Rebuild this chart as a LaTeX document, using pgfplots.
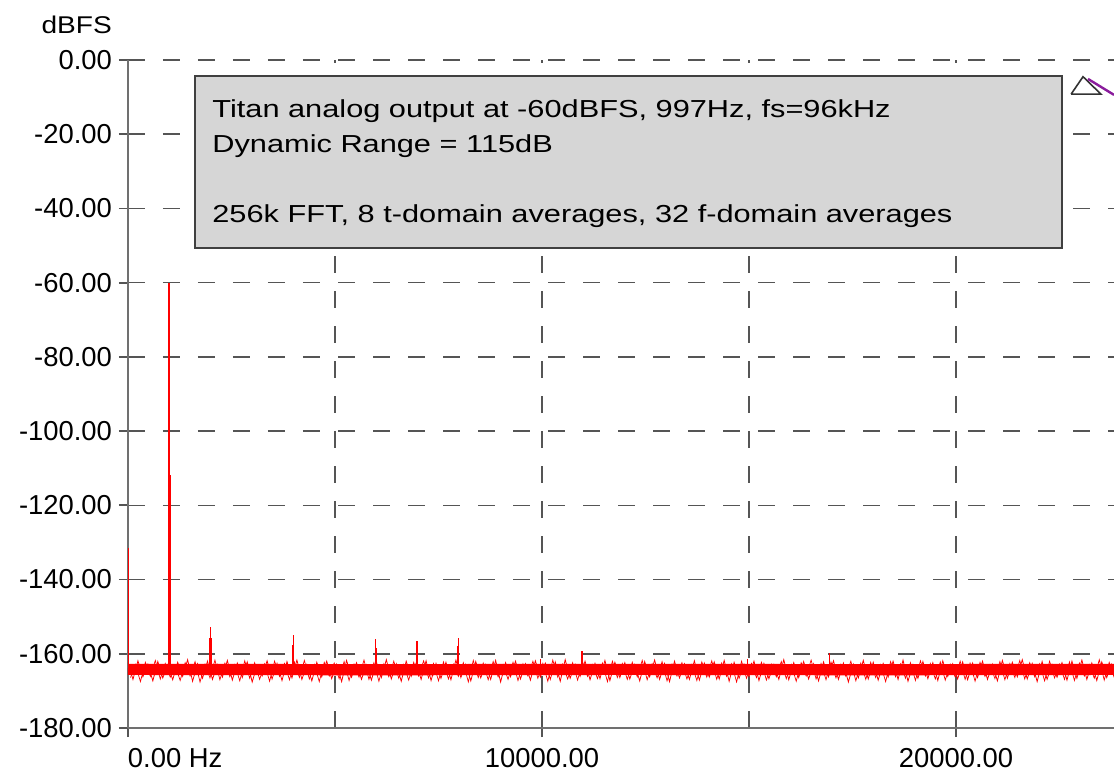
\documentclass[border=0pt]{standalone}
\usepackage{pgfplots}
\pgfplotsset{compat=1.18}
\usepackage{fontspec}
\setmainfont{Liberation Sans}
\newfontfamily\boxfont[FakeStretch=1.25]{Liberation Sans}
\newfontfamily\dbfsfont[FakeStretch=1.16]{Liberation Sans}
\definecolor{axisgray}{HTML}{707070}
\definecolor{gridgray}{HTML}{555555}
\definecolor{boxgray}{HTML}{D6D6D6}
\definecolor{sigred}{HTML}{FF0000}
\definecolor{curpurple}{HTML}{8A1C9C}
\begin{document}
\begin{tikzpicture}
\useasboundingbox (-64pt,-24pt) rectangle (493pt,364pt);
\begin{axis}[
  name=ax,
  at={(0,0)}, anchor=south west,
  scale only axis,
  width=493pt, height=334pt,
  xmin=0, xmax=23816,
  ymin=-180, ymax=0,
  axis lines=left,
  axis line style={-, draw=axisgray, line width=1pt},
  xtick={0,10000,20000},
  xticklabels={\makebox[0pt][l]{0.00 Hz},10000.00,20000.00},
  minor xtick={5000,15000},
  ytick={-180,-160,-140,-120,-100,-80,-60,-40,-20,0},
  yticklabels={-180.00,-160.00,-140.00,-120.00,-100.00,-80.00,-60.00,-40.00,-20.00,0.00},
  tick label style={font=\fontsize{13.7}{14}\selectfont, text=black},
  xticklabel style={inner sep=0.8pt, yshift=-4.9pt},
  tick align=outside,
  major tick length=4.5pt,
  minor tick length=0pt,
  tick style={draw=gridgray, line width=0.9pt},
  grid=both,
  major grid style={draw=gridgray, line width=0.75pt, dash pattern=on 8.5pt off 9pt},
  minor grid style={draw=gridgray, line width=0.75pt, dash pattern=on 8.5pt off 9pt},
  clip=true,
]
% noise core band
\addplot[sigred, line width=5.6pt, line cap=butt] coordinates {(0,-164.2) (6000,-164.3) (12000,-164.2) (18000,-164.3) (23816,-164.2)};
% noise fuzz (coarse)
\addplot[sigred, line width=0.4pt] coordinates {
(0,-162.4) (120,-166.9) (240,-161.9) (360,-166.2) (480,-162.8) (600,-167.3) (720,-162.1) (840,-166.5) (960,-163.0) (1080,-167.0)
(1200,-162.3) (1320,-166.1) (1440,-161.6) (1560,-167.4) (1680,-162.7) (1800,-166.6) (1920,-162.0) (2040,-166.9) (2160,-162.9) (2280,-166.3)
(2400,-161.8) (2520,-167.1) (2640,-162.5) (2760,-166.4) (2880,-162.2) (3000,-167.6) (3120,-163.1) (3240,-166.0) (3360,-161.9) (3480,-166.8)
(3600,-162.6) (3720,-167.2) (3840,-162.1) (3960,-166.5) (4080,-161.7) (4200,-166.9) (4320,-162.9) (4440,-167.3) (4560,-162.3) (4680,-166.2)
(4800,-162.0) (4920,-166.7) (5040,-162.8) (5160,-167.5) (5280,-161.8) (5400,-166.3) (5520,-162.4) (5640,-166.9) (5760,-163.0) (5880,-167.1)
(6000,-162.2) (6120,-166.4) (6240,-161.6) (6360,-166.8) (6480,-162.7) (6600,-167.4) (6720,-162.0) (6840,-166.1) (6960,-162.5) (7080,-166.9)
(7200,-161.9) (7320,-167.2) (7440,-162.6) (7560,-166.6) (7680,-162.3) (7800,-167.0) (7920,-161.7) (8040,-166.4) (8160,-162.8) (8280,-167.3)
(8400,-162.1) (8520,-166.5) (8640,-162.9) (8760,-166.9) (8880,-161.8) (9000,-167.6) (9120,-162.4) (9240,-166.2) (9360,-162.0) (9480,-166.8)
(9600,-162.7) (9720,-167.1) (9840,-161.9) (9960,-166.3) (10080,-162.5) (10200,-166.9) (10320,-162.2) (10440,-167.4) (10560,-161.6) (10680,-166.6)
(10800,-162.8) (10920,-166.1) (11040,-162.0) (11160,-167.0) (11280,-162.6) (11400,-166.7) (11520,-161.8) (11640,-167.2) (11760,-162.3) (11880,-166.4)
(12000,-162.4) (12120,-166.8) (12240,-162.9) (12360,-167.3) (12480,-162.1) (12600,-166.2) (12720,-161.7) (12840,-166.9) (12960,-162.6) (13080,-167.5)
(13200,-162.0) (13320,-166.5) (13440,-162.7) (13560,-166.9) (13680,-161.9) (13800,-167.1) (13920,-162.5) (14040,-166.3) (14160,-162.2) (14280,-166.8)
(14400,-161.8) (14520,-167.4) (14640,-162.3) (14760,-166.6) (14880,-162.8) (15000,-166.1) (15120,-162.0) (15240,-167.2) (15360,-162.6) (15480,-166.7)
(15600,-162.9) (15720,-166.9) (15840,-161.6) (15960,-167.0) (16080,-162.4) (16200,-166.4) (16320,-162.1) (16440,-166.8) (16560,-162.7) (16680,-167.3)
(16800,-162.2) (16920,-166.2) (17040,-161.9) (17160,-166.9) (17280,-162.5) (17400,-167.6) (17520,-162.8) (17640,-166.5) (17760,-161.8) (17880,-166.8)
(18000,-162.3) (18120,-167.1) (18240,-162.6) (18360,-166.3) (18480,-162.0) (18600,-166.9) (18720,-161.7) (18840,-167.4) (18960,-162.9) (19080,-166.6)
(19200,-162.1) (19320,-166.7) (19440,-162.4) (19560,-167.2) (19680,-161.9) (19800,-166.1) (19920,-162.7) (20040,-166.8) (20160,-162.2) (20280,-167.0)
(20400,-162.5) (20520,-166.4) (20640,-162.0) (20760,-166.9) (20880,-162.8) (21000,-167.3) (21120,-161.8) (21240,-166.6) (21360,-162.3) (21480,-166.2)
(21600,-161.6) (21720,-166.8) (21840,-162.6) (21960,-167.5) (22080,-162.1) (22200,-166.9) (22320,-162.9) (22440,-166.3) (22560,-162.4) (22680,-167.1)
(22800,-162.0) (22920,-166.6) (23040,-161.7) (23160,-166.9) (23280,-162.5) (23400,-167.2) (23520,-162.2) (23640,-166.4) (23760,-162.8) (23880,-166.9)
};
% noise fuzz (fine, offset)
\addplot[sigred, line width=0.35pt] coordinates {
(60,-166.4) (180,-162.9) (300,-167.5) (420,-162.3) (540,-166.1) (660,-161.8) (780,-166.8) (900,-162.6) (1020,-166.3) (1140,-163.1)
(1260,-167.2) (1380,-162.4) (1500,-166.0) (1620,-162.1) (1740,-167.6) (1860,-162.8) (1980,-166.5) (2100,-161.7) (2220,-167.0) (2340,-162.5)
(2460,-166.2) (2580,-162.9) (2700,-167.3) (2820,-161.9) (2940,-166.6) (3060,-162.4) (3180,-166.9) (3300,-162.7) (3420,-167.4) (3540,-162.0)
(3660,-166.1) (3780,-162.6) (3900,-167.0) (4020,-162.2) (4140,-166.4) (4260,-161.8) (4380,-166.8) (4500,-162.9) (4620,-167.5) (4740,-162.3)
(4860,-166.0) (4980,-162.5) (5100,-166.7) (5220,-162.1) (5340,-167.2) (5460,-162.8) (5580,-166.3) (5700,-161.7) (5820,-166.9) (5940,-162.4)
(6060,-167.4) (6180,-162.7) (6300,-166.2) (6420,-162.0) (6540,-166.6) (6660,-162.9) (6780,-167.1) (6900,-162.3) (7020,-166.0) (7140,-161.9)
(7260,-166.5) (7380,-162.6) (7500,-167.3) (7620,-162.2) (7740,-166.8) (7860,-162.8) (7980,-166.1) (8100,-162.4) (8220,-167.6) (8340,-161.8)
(8460,-166.4) (8580,-162.5) (8700,-167.0) (8820,-162.1) (8940,-166.2) (9060,-162.9) (9180,-166.9) (9300,-162.3) (9420,-167.2) (9540,-162.7)
(9660,-166.0) (9780,-162.0) (9900,-166.6) (10020,-162.6) (10140,-167.4) (10260,-161.7) (10380,-166.3) (10500,-162.8) (10620,-166.8) (10740,-162.4)
(10860,-167.1) (10980,-162.2) (11100,-166.1) (11220,-162.9) (11340,-166.7) (11460,-162.5) (11580,-167.5) (11700,-162.0) (11820,-166.4) (11940,-162.6)
(12060,-166.9) (12180,-162.3) (12300,-166.2) (12420,-161.8) (12540,-167.0) (12660,-162.7) (12780,-166.5) (12900,-162.1) (13020,-167.3) (13140,-162.8)
(13260,-166.0) (13380,-162.4) (13500,-166.8) (13620,-162.9) (13740,-167.2) (13860,-162.2) (13980,-166.3) (14100,-161.9) (14220,-166.9) (14340,-162.5)
(14460,-166.1) (14580,-162.7) (14700,-167.6) (14820,-162.0) (14940,-166.6) (15060,-162.6) (15180,-166.4) (15300,-162.3) (15420,-167.1) (15540,-162.8)
(15660,-166.2) (15780,-162.1) (15900,-166.7) (16020,-162.9) (16140,-167.4) (16260,-162.4) (16380,-166.0) (16500,-161.7) (16620,-166.8) (16740,-162.6)
(16860,-167.0) (16980,-162.2) (17100,-166.5) (17220,-162.8) (17340,-166.1) (17460,-162.0) (17580,-167.3) (17700,-162.5) (17820,-166.9) (17940,-162.3)
(18060,-166.4) (18180,-162.9) (18300,-167.5) (18420,-162.1) (18540,-166.2) (18660,-162.7) (18780,-166.6) (18900,-162.4) (19020,-167.2) (19140,-161.9)
(19260,-166.0) (19380,-162.6) (19500,-166.8) (19620,-162.2) (19740,-167.1) (19860,-162.8) (19980,-166.3) (20100,-162.0) (20220,-166.9) (20340,-162.5)
(20460,-167.4) (20580,-162.3) (20700,-166.1) (20820,-162.9) (20940,-166.7) (21060,-162.1) (21180,-167.0) (21300,-162.6) (21420,-166.4) (21540,-161.8)
(21660,-166.8) (21780,-162.4) (21900,-166.2) (22020,-162.7) (22140,-167.3) (22260,-162.0) (22380,-166.5) (22500,-162.8) (22620,-166.9) (22740,-162.2)
(22860,-167.2) (22980,-162.5) (23100,-166.0) (23220,-162.9) (23340,-166.6) (23460,-161.6) (23580,-167.1) (23700,-162.3) (23820,-166.4)
};
% spikes: thick bases
\addplot[sigred, line width=1.5pt] coordinates {(997,-164) (997,-111.8)};
\addplot[sigred, line width=1.1pt] coordinates {(1994,-164) (1994,-155.7)};
\addplot[sigred, line width=1.0pt] coordinates {(3988,-164) (3988,-157.5)};
\addplot[sigred, line width=1.0pt] coordinates {(5982,-164) (5982,-158.5)};
\addplot[sigred, line width=1.0pt] coordinates {(6979,-164) (6979,-158.8)};
\addplot[sigred, line width=1.0pt] coordinates {(7976,-164) (7976,-158.0)};
% spikes: thin tops
\addplot[sigred, line width=0.75pt] coordinates {(12,-164) (12,-131.5)};
\addplot[sigred, line width=0.8pt] coordinates {(997,-164) (997,-60)};
\addplot[sigred, line width=0.6pt] coordinates {(1994,-164) (1994,-152.8)};
\addplot[sigred, line width=0.6pt] coordinates {(3988,-164) (3988,-154.9)};
\addplot[sigred, line width=0.6pt] coordinates {(5982,-164) (5982,-156.1)};
\addplot[sigred, line width=0.6pt] coordinates {(6979,-164) (6979,-156.5)};
\addplot[sigred, line width=0.6pt] coordinates {(7976,-164) (7976,-155.8)};
\addplot[sigred, line width=0.6pt] coordinates {(9970,-164) (9970,-161.5)};
\addplot[sigred, line width=0.6pt] coordinates {(10967,-164) (10967,-159.3)};
\addplot[sigred, line width=0.6pt] coordinates {(14955,-164) (14955,-161.4)};
\addplot[sigred, line width=0.6pt] coordinates {(16949,-164) (16949,-159.7)};
% cursor marker
\addplot[black!80, line width=0.8pt, fill=white] coordinates {(22780,-9.2) (23068,-4.5) (23500,-9.2) (22780,-9.2)};
\addplot[curpurple, line width=1.2pt] coordinates {(23188,-5.1) (23816,-9.4)};
% annotation box
\draw[fill=boxgray, draw=black!75, line width=1.2pt] (axis cs:1618,-4.3) rectangle (axis cs:22560,-50.66);
\node[anchor=base west, inner sep=0pt, font=\boxfont\fontsize{12.3}{14}\selectfont] at (axis cs:2029,-15.44) {Titan analog output at -60dBFS, 997Hz, fs=96kHz};
\node[anchor=base west, inner sep=0pt, font=\boxfont\fontsize{12.3}{14}\selectfont] at (axis cs:2029,-24.98) {Dynamic Range = 115dB};
\node[anchor=base west, inner sep=0pt, font=\boxfont\fontsize{12.3}{14}\selectfont] at (axis cs:2029,-43.92) {256k FFT, 8 t-domain averages, 32 f-domain averages};
\end{axis}
\node[anchor=base, inner sep=0pt, font=\dbfsfont\fontsize{12.1}{14}\selectfont] at ([shift={(-25.65pt,13pt)}]ax.north west) {dBFS};
\end{tikzpicture}
\end{document}
